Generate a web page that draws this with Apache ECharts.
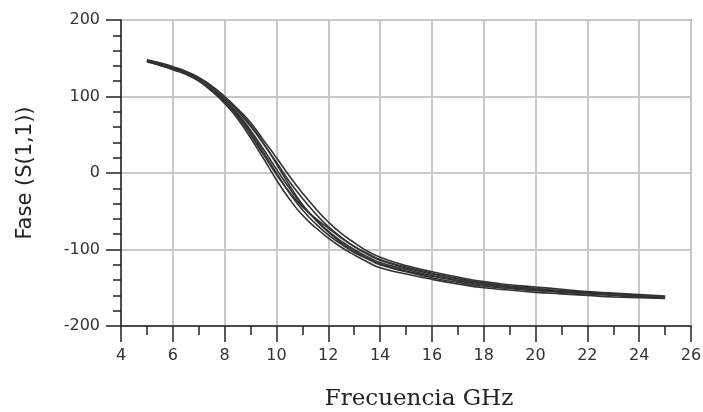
<!DOCTYPE html>
<html>
<head>
<meta charset="utf-8">
<script src="https://cdn.jsdelivr.net/npm/echarts@6/dist/echarts.min.js"></script>
<style>
html,body{margin:0;padding:0;background:#fff;}
#chart{width:703px;height:412px;}
</style>
</head>
<body>
<div id="chart"></div>
<script>
// Frequency samples (GHz)
var freq = [5,5.5,6,6.5,7,7.5,8,8.5,9,9.5,10,10.5,11,11.5,12,12.5,13,13.5,14,15,16,17,18,19,20,21,22,23,24,25];
// Phase traces (degrees) forming the spread band
var trace1 = [148,144,139,133,125,114,100,84,66,43,20,-4,-26,-46,-64,-79,-91,-102,-110,-121,-129,-136,-142,-146,-149,-152,-155,-157,-159,-161];
var trace2 = [147,143,138,132,124,112,98,81,61,38,14,-11,-33,-53,-70,-84,-96,-106,-114,-124,-132,-138,-144,-148,-151,-154,-156,-158,-160,-162];
var trace3 = [147,143,138,132,124,113,99,83,63,39,12,-16,-41,-61,-77,-91,-102,-111,-119,-128,-135,-141,-146,-150,-153,-155,-157,-159,-161,-163];
var trace4 = [146,141,136,130,121,108,93,74,50,24,-2,-25,-44,-59,-72,-85,-96,-105,-113,-123,-131,-138,-144,-148,-151,-154,-156,-158,-160,-162];
var trace5 = [146,142,137,131,122,110,96,78,56,31,5,-20,-42,-60,-76,-89,-100,-109,-117,-126,-134,-140,-146,-149,-152,-155,-157,-159,-161,-162];
var trace6 = [146,141,136,130,121,109,94,76,53,27,0,-26,-48,-66,-81,-93,-104,-112,-120,-129,-137,-143,-148,-151,-154,-156,-158,-160,-162,-163];
var trace7 = [145,141,135,129,120,107,91,71,46,19,-9,-34,-55,-71,-85,-97,-107,-116,-124,-132,-139,-145,-150,-153,-156,-158,-160,-162,-163,-164];
var traces = [trace1, trace2, trace3, trace4, trace5, trace6, trace7];

var xTitle = 'Frecuencia GHz';
var yTitle = 'Fase (S(1,1))';

function pairs(vals){
  return freq.map(function(f,i){ return [f, vals[i]]; });
}

var chart = echarts.init(document.getElementById('chart'), null, {renderer:'canvas'});
var series = traces.map(function(t){
  return {
    type:'line', data: pairs(t), smooth:true, showSymbol:false,
    lineStyle:{color:'#333', width:1.6}, silent:true, animation:false
  };
});

chart.setOption({
  animation:false,
  grid:{left:121, right:12, top:20, bottom:86, outerBoundsMode:'none', containLabel:false,
        show:true, borderColor:'#222', borderWidth:1.5, backgroundColor:'transparent'},
  xAxis:{
    type:'value', min:4, max:26, interval:2,
    name:xTitle, nameLocation:'middle', nameGap:62,
    nameTextStyle:{fontFamily:'DejaVu Serif', fontSize:23, color:'#222', padding:[0,0,0,26]},
    axisLine:{show:true, onZero:false, lineStyle:{color:'#222', width:1.5}},
    axisTick:{show:true, length:16, lineStyle:{color:'#222', width:1.5}},
    minorTick:{show:true, splitNumber:2, length:9, lineStyle:{color:'#222', width:1.5}},
    axisLabel:{margin:22, fontFamily:'DejaVu Sans', fontSize:16, color:'#333'},
    splitLine:{show:true, lineStyle:{color:'#c8c8c8', width:2}}
  },
  yAxis:{
    type:'value', min:-200, max:200, interval:100,
    name:yTitle, nameLocation:'middle', nameGap:85, nameRotate:90,
    nameTextStyle:{fontFamily:'DejaVu Sans', fontSize:21, color:'#222'},
    axisLine:{show:true, onZero:false, lineStyle:{color:'#222', width:1.5}},
    axisTick:{show:true, length:15, lineStyle:{color:'#222', width:1.5}},
    minorTick:{show:true, splitNumber:5, length:8, lineStyle:{color:'#222', width:1.5}},
    axisLabel:{margin:21, fontFamily:'DejaVu Sans', fontSize:16, color:'#333'},
    splitLine:{show:true, lineStyle:{color:'#c8c8c8', width:2}}
  },
  series:series
});
</script>
</body>
</html>
